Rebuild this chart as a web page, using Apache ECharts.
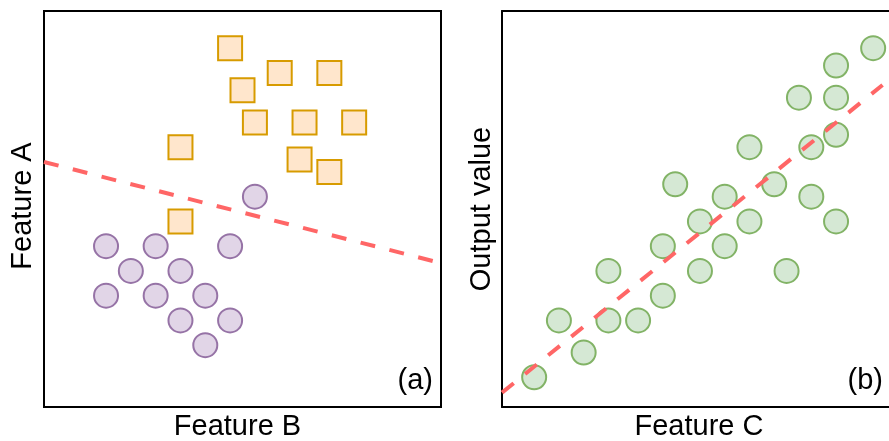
<!DOCTYPE html>
<html>
<head>
<meta charset="utf-8">
<script src="https://cdn.jsdelivr.net/npm/echarts@6/dist/echarts.min.js"></script>
<style>
  html, body { margin: 0; padding: 0; background: #fff; }
  #chart { width: 889px; height: 441px; }
</style>
</head>
<body>
<div id="chart"></div>
<script>
// ---- Data (panel a: classification) ----
const classCircles = [
  [2.5, 6.5], [4.5, 6.5], [7.5, 6.5],
  [3.5, 5.5], [5.5, 5.5],
  [2.5, 4.5], [4.5, 4.5], [6.5, 4.5],
  [5.5, 3.5], [7.5, 3.5],
  [6.5, 2.5],
  [8.5, 8.5]
];
const classSquares = [
  [7.5, 14.5], [9.5, 13.5], [11.5, 13.5],
  [8.0, 12.8],
  [8.5, 11.5], [10.5, 11.5], [12.5, 11.5],
  [5.5, 10.5], [10.3, 10.0], [11.5, 9.5],
  [5.5, 7.5]
];
const boundaryLine = [[0, 9.9], [15.67, 5.9]];

// ---- Data (panel b: regression) ----
const regPoints = [
  [1.3, 1.2], [2.3, 3.5], [3.3, 2.2], [4.3, 5.5], [4.3, 3.5], [5.5, 3.5],
  [6.5, 6.5], [6.5, 4.5], [7.0, 9.0], [8.0, 7.5], [8.0, 5.5], [9.0, 8.5],
  [9.0, 6.5], [10.0, 10.5], [10.0, 7.5], [11.0, 9.0], [11.5, 5.5],
  [12.0, 12.5], [12.5, 10.5], [12.5, 8.5], [13.5, 13.8], [13.5, 12.5],
  [13.5, 11.0], [13.5, 7.5], [15.0, 14.5]
];
const fitLine = [[0, 0.58], [15.38, 13.01]];

// ---- Labels ----
const labelA = { x: 'Feature B', y: 'Feature A', tag: '(a)' };
const labelB = { x: 'Feature C', y: 'Output value', tag: '(b)' };

const FONT = '"Liberation Sans", Arial, sans-serif';
const hiddenAxis = {
  type: 'value',
  axisLine: { show: false }, axisTick: { show: false },
  axisLabel: { show: false }, splitLine: { show: false }
};
const frameAxis = {
  type: 'value',
  axisLine: { show: true, onZero: false, lineStyle: { color: '#000', width: 2 } },
  axisTick: { show: false }, axisLabel: { show: false }, splitLine: { show: false }
};
const txt = (text, x, y, align, rot) => ({
  type: 'text', x: x, y: y, rotation: rot || 0, z: 10,
  style: { text: text, fill: '#000', font: '29px ' + FONT, align: align || 'center', verticalAlign: 'middle' }
});

const chart = echarts.init(document.getElementById('chart'), null, { renderer: 'canvas' });
chart.setOption({
  animation: false,
  backgroundColor: '#fff',
  grid: [
    { left: 44, top: 11, width: 397, height: 396, show: true, borderColor: '#000', borderWidth: 2, backgroundColor: 'transparent' },
    { left: 502, top: 11, width: 387, height: 396, show: false }
  ],
  xAxis: [
    Object.assign({ gridIndex: 0, min: 0, max: 16 }, hiddenAxis),
    Object.assign({ gridIndex: 1, min: 0, max: 15.64, position: 'bottom' }, frameAxis),
    Object.assign({ gridIndex: 1, min: 0, max: 15.64, position: 'top' }, frameAxis)
  ],
  yAxis: [
    Object.assign({ gridIndex: 0, min: 0, max: 16 }, hiddenAxis),
    Object.assign({ gridIndex: 1, min: 0, max: 16, position: 'left' }, frameAxis)
  ],
  series: [
    {
      type: 'scatter', xAxisIndex: 0, yAxisIndex: 0, data: classCircles,
      symbol: 'circle', symbolSize: 24,
      itemStyle: { color: '#e1d5e7', borderColor: '#9673a6', borderWidth: 2, opacity: 1 }
    },
    {
      type: 'scatter', xAxisIndex: 0, yAxisIndex: 0, data: classSquares,
      symbol: 'rect', symbolSize: 24,
      itemStyle: { color: '#ffe6cc', borderColor: '#d79b00', borderWidth: 2, opacity: 1 }
    },
    {
      type: 'line', xAxisIndex: 0, yAxisIndex: 0, data: boundaryLine, z: 5,
      symbol: 'none', silent: true,
      lineStyle: { color: '#ff6666', width: 4, type: [15, 14.7], cap: 'butt' }
    },
    {
      type: 'scatter', xAxisIndex: 1, yAxisIndex: 1, data: regPoints,
      symbol: 'circle', symbolSize: 24,
      itemStyle: { color: '#d5e8d4', borderColor: '#82b366', borderWidth: 2, opacity: 1 }
    },
    {
      type: 'line', xAxisIndex: 1, yAxisIndex: 1, data: fitLine, z: 5,
      symbol: 'none', silent: true,
      lineStyle: { color: '#ff6666', width: 4, type: [15, 14.7], cap: 'butt' }
    }
  ],
  graphic: [
    txt(labelA.y, 23, 206, 'center', Math.PI / 2),
    txt(labelA.x, 237.5, 427, 'center'),
    txt(labelA.tag, 433, 381, 'right'),
    txt(labelB.y, 481.5, 209, 'center', Math.PI / 2),
    txt(labelB.x, 699, 427, 'center'),
    txt(labelB.tag, 883, 381, 'right')
  ]
});
</script>
</body>
</html>
